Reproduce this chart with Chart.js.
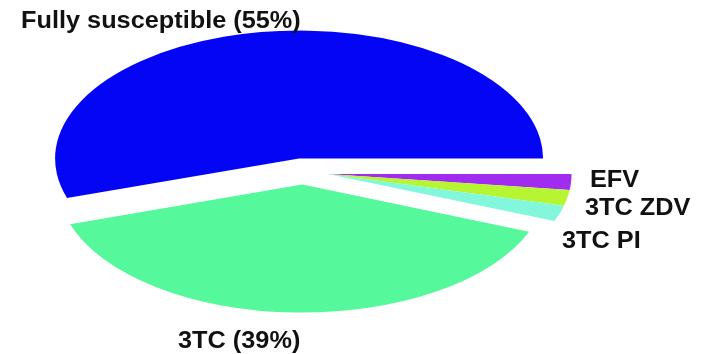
<!DOCTYPE html>
<html>
<head>
<meta charset="utf-8">
<script src="https://cdn.jsdelivr.net/npm/chart.js@4/dist/chart.umd.min.js"></script>
<style>
  html, body { margin: 0; padding: 0; background: #fff; }
  #wrap { width: 709px; height: 354px; }
</style>
</head>
<body>
<div id="wrap"><canvas id="c" width="709" height="354"></canvas></div>
<script>
// Resistance categories and their share of patients (%)
const categories = ['Fully susceptible', 'EFV', '3TC ZDV', '3TC PI', '3TC'];
const shares = [55, 2, 2, 2, 39];
const showPercent = [true, false, false, false, true];
const sliceColors = ['#0505f6', '#a12cf0', '#b6f532', '#82f7dc', '#55f89b'];

// Slices that are pulled out of the pie together
const explodeGroups = [[0], [1, 2, 3], [4]];
const explodeDistance = 25;

// Oval pie geometry on the page
const oval = { cx: 303, cy: 171.5, rx: 244, ry: 128 };

// Label anchors (left edge, baseline)
const labelAnchors = [[21, 28], [590, 187], [585, 215], [562, 248], [178, 348]];
const labelFont = 'bold 23px "Liberation Sans", Arial, Helvetica, sans-serif';
const labelStretch = 1.1;

const ovalPie = {
  id: 'ovalPie',
  beforeDatasetsDraw(chart) {
    const ctx = chart.ctx;
    const arcs = chart.getDatasetMeta(0).data;
    const r = arcs[0].outerRadius;
    const sx = oval.rx / r, sy = oval.ry / r;
    explodeGroups.forEach(group => {
      const first = arcs[group[0]], last = arcs[group[group.length - 1]];
      const mid = (first.startAngle + last.endAngle) / 2;
      const d = explodeDistance / sx;
      group.forEach(i => {
        const arc = arcs[i];
        ctx.save();
        ctx.translate(oval.cx, oval.cy);
        ctx.scale(sx, sy);
        ctx.translate(Math.cos(mid) * d - arc.x, Math.sin(mid) * d - arc.y);
        arc.draw(ctx);
        ctx.restore();
      });
    });
    return false;
  },
  afterDraw(chart) {
    const ctx = chart.ctx;
    ctx.save();
    ctx.fillStyle = '#111';
    ctx.font = labelFont;
    ctx.textAlign = 'left';
    ctx.textBaseline = 'alphabetic';
    categories.forEach((name, i) => {
      const text = showPercent[i] ? `${name} (${shares[i]}%)` : name;
      const [x, y] = labelAnchors[i];
      ctx.save();
      ctx.translate(x, y);
      ctx.scale(labelStretch, 1);
      ctx.fillText(text, 0, 0);
      ctx.restore();
    });
    ctx.restore();
  }
};

new Chart(document.getElementById('c'), {
  type: 'pie',
  data: {
    labels: categories,
    datasets: [{
      data: shares,
      backgroundColor: sliceColors,
      borderWidth: 0
    }]
  },
  options: {
    responsive: false,
    devicePixelRatio: 1,
    animation: false,
    rotation: 252,
    plugins: {
      legend: { display: false },
      tooltip: { enabled: false }
    }
  },
  plugins: [ovalPie]
});
</script>
</body>
</html>
